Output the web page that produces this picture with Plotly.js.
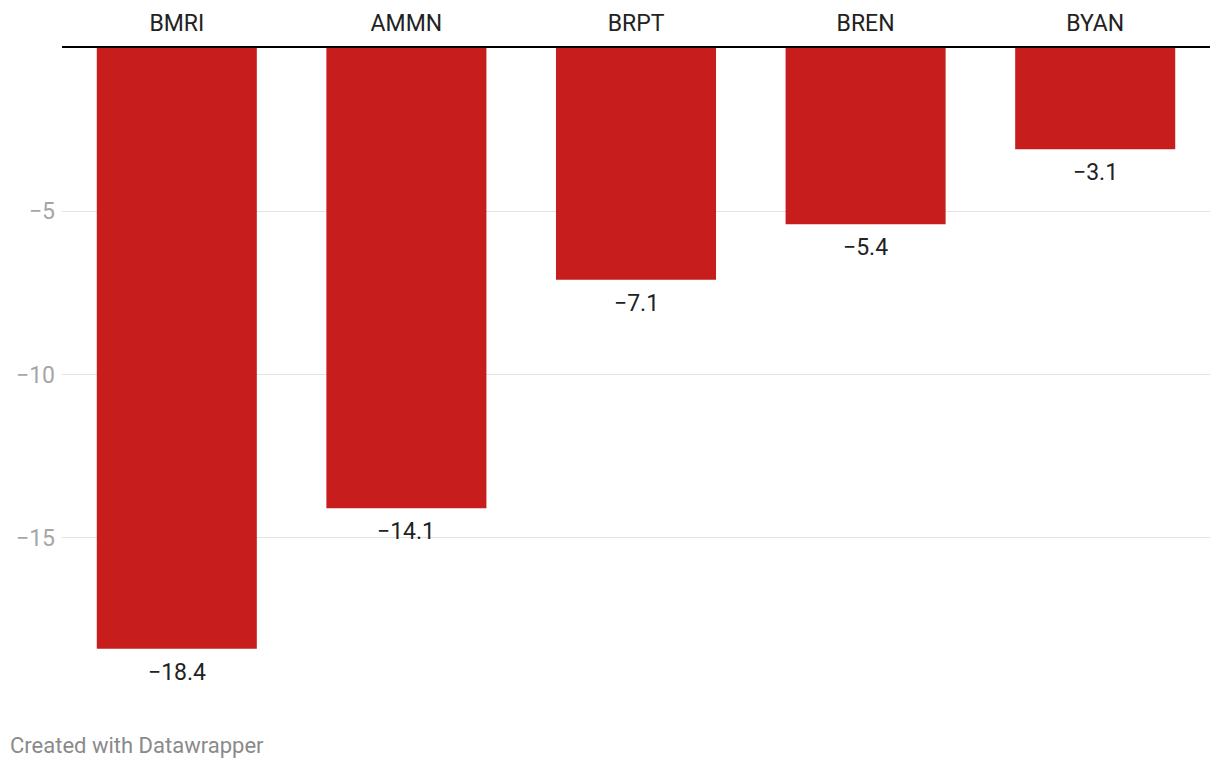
<!DOCTYPE html>
<html>
<head>
<meta charset="utf-8">
<script src="https://cdn.plot.ly/plotly-3.0.1.min.js"></script>
<style>
html,body{margin:0;padding:0;background:#fff;}
#chart{width:1220px;height:768px;}
</style>
</head>
<body>
<div id="chart"></div>
<script>
const categories = ["BMRI", "AMMN", "BRPT", "BREN", "BYAN"];
const values = [-18.4, -14.1, -7.1, -5.4, -3.1];
const yTickVals = [-5, -10, -15];
const yTickText = ["\u22125", "\u221210", "\u221215"];

function fmt(v){ return (v < 0 ? "\u2212" : "") + Math.abs(v).toFixed(1); }

const trace = {
  type: "bar",
  x: categories,
  y: values,
  marker: {color: "#c71e1d"},
  hoverinfo: "skip"
};

const annotations = categories.map((c, i) => ({
  x: c, y: values[i], xref: "x", yref: "y",
  text: fmt(values[i]),
  showarrow: false,
  yanchor: "top",
  yshift: -8,
  font: {family: "Roboto, sans-serif", size: 23, color: "#222"}
}));
annotations.push({
  xref: "paper", yref: "paper",
  x: -0.047, y: -0.0689,
  xanchor: "left", yanchor: "middle",
  text: "Created with Datawrapper",
  showarrow: false,
  font: {family: "Roboto, sans-serif", size: 22, color: "#8a8a8a"}
});

const layout = {
  width: 1220, height: 768,
  margin: {l: 62, r: 10, t: 48, b: 67},
  paper_bgcolor: "#fff", plot_bgcolor: "#fff",
  bargap: 0.303,
  showlegend: false,
  font: {family: "Roboto, sans-serif"},
  xaxis: {
    side: "top",
    showline: true, linecolor: "#000", linewidth: 2,
    showgrid: false, zeroline: false,
    ticks: "",
    ticklabelstandoff: 6,
    tickfont: {family: "Roboto, sans-serif", size: 23, color: "#222"},
    fixedrange: true
  },
  yaxis: {
    range: [-20, 0],
    tickvals: yTickVals, ticktext: yTickText,
    showgrid: true, gridcolor: "#e3e3e3", gridwidth: 1,
    zeroline: false, showline: false,
    ticks: "",
    ticklabelstandoff: 6,
    tickfont: {family: "Roboto, sans-serif", size: 23, color: "#a6a6a6"},
    fixedrange: true
  },
  annotations: annotations
};

Plotly.newPlot("chart", [trace], layout, {displayModeBar: false, staticPlot: true});
</script>
</body>
</html>
